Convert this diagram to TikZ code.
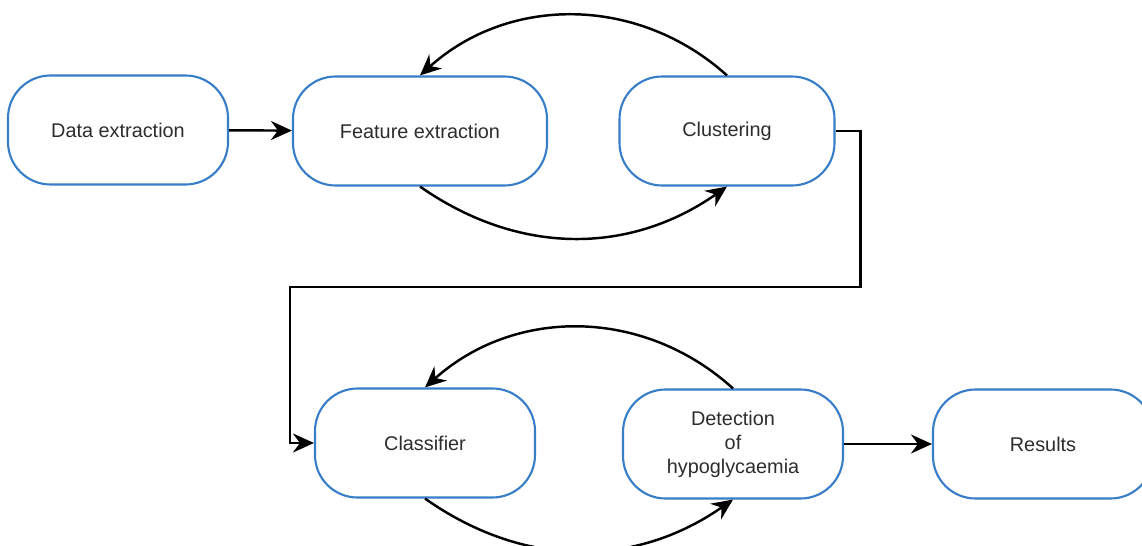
\documentclass[tikz,border=0pt]{standalone}
\usepackage{fontspec}
\setmainfont{Liberation Sans}
\usepackage{xcolor}
\usepackage{tikz}
\usetikzlibrary{arrows.meta,positioning,calc}
\definecolor{boxblue}{RGB}{55,125,200}
\definecolor{txtgray}{RGB}{45,45,45}

\begin{document}
\begin{tikzpicture}[
    % Base styles
    stage/.style={rectangle, draw=boxblue, fill=white, line width=1.2pt, minimum width=4.4cm, minimum height=2.18cm, rounded corners=0.85cm, align=center, text=txtgray, font=\fontsize{11.3}{13.6}\selectfont},
    % Arrows
    flow/.style={-{Stealth[length=4.2mm,width=3.8mm,inset=1.4mm]}, line width=1.4pt, draw=black}
]

% === CANVAS ===
\clip (0,0) rectangle (22.84,-10.92);

% === TOP ROW ===
\node[stage] (dat) at (2.36,-2.6) {Data extraction};
\node[stage, minimum width=5.08cm] (fea) at (8.4,-2.62) {Feature extraction};
\node[stage, minimum width=4.3cm] (clu) at (14.54,-2.62) {Clustering};

% === BOTTOM ROW ===
\node[stage] (cla) at (8.5,-8.86) {Classifier};
\node[stage] (det) at (14.66,-8.88) {Detection\\of\\hypoglycaemia};
\node[stage] (res) at (20.86,-8.88) {Results};

% Turning point of the long connector
\coordinate (turn) at (5.8,-5.74);

% === CONNECTIONS ===
\draw[flow] (dat) -- (fea);
\draw[flow] (clu.north) to[bend right=42] (fea.north);
\draw[flow] (fea.south) to[bend right=35] (clu.south);
\draw[flow] (clu.east) -- ++(0.5,0) |- (turn) |- (cla.west);
\draw[flow] (det.north) to[bend right=42] (cla.north);
\draw[flow] (cla.south) to[bend right=35] (det.south);
\draw[flow] (det) -- (res);

\end{tikzpicture}
\end{document}
